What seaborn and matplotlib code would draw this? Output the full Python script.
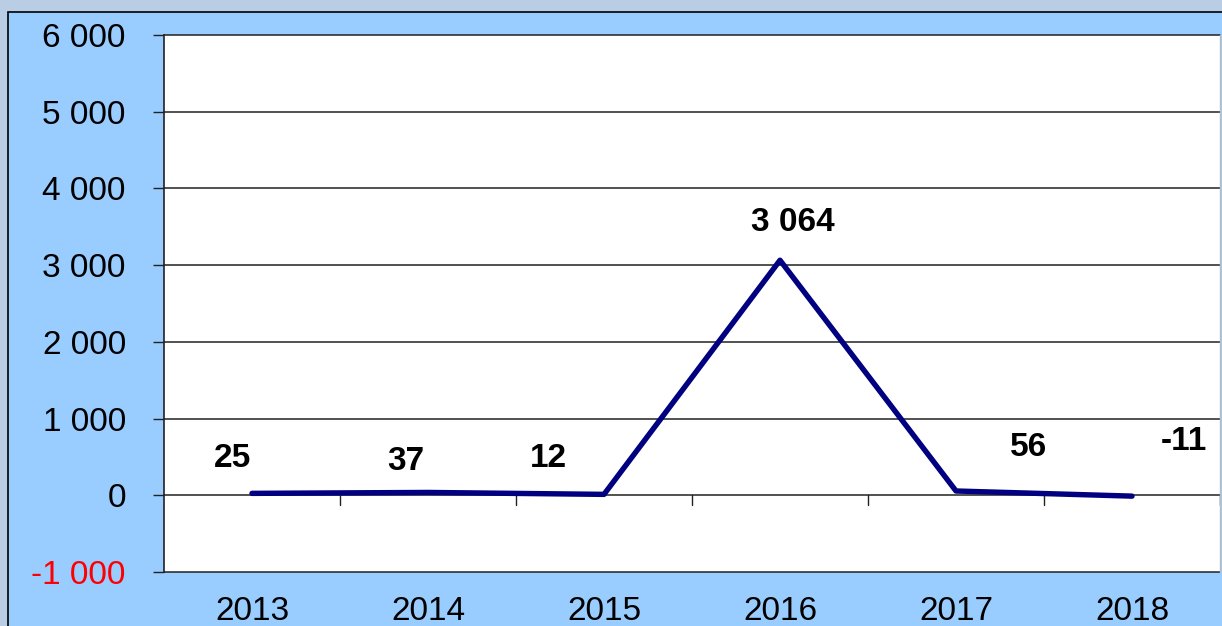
import matplotlib
matplotlib.use("Agg")
import matplotlib.pyplot as plt
from matplotlib.patches import Rectangle
from matplotlib.ticker import FuncFormatter
import pandas as pd
import seaborn as sns

years = ["2013", "2014", "2015", "2016", "2017", "2018"]
values = [25, 37, 12, 3064, 56, -11]
value_labels = ["25", "37", "12", "3 064", "56", "-11"]
y_ticks = [-1000, 0, 1000, 2000, 3000, 4000, 5000, 6000]

# label offsets in points (dx, dy), Excel-style placement
label_offsets = [(-14, 25), (-16, 22), (-40, 26), (9, 27), (52, 31), (37, 39)]

df = pd.DataFrame({"year": years, "value": values})

sns.set_style("white")
plt.rcParams["font.family"] = ["Liberation Sans", "DejaVu Sans"]

fig = plt.figure(figsize=(12.22, 6.26), dpi=100)
fig.patch.set_facecolor("#B9CDE5")
fig.patches.append(Rectangle((8 / 1222, -0.01), 1, 1 - 12 / 626 + 0.01,
                             transform=fig.transFigure, facecolor="#99CCFF",
                             edgecolor="black", linewidth=1.2, zorder=-5))

ax = fig.add_axes([164 / 1222, 1 - 572 / 626, (1220 - 164) / 1222, (572 - 35) / 626])
ax.set_zorder(2)
ax.set_facecolor("white")

sns.lineplot(data=df, x="year", y="value", ax=ax, color="#000080",
             linewidth=3.9, sort=False, zorder=3)

ax.set_xlim(-0.5, len(years) - 0.5)
ax.set_ylim(-1000, 6000)
ax.set_yticks(y_ticks)
ax.yaxis.set_major_formatter(FuncFormatter(lambda v, p: f"{int(v):,}".replace(",", " ")))
for yv in y_ticks:
    ax.axhline(yv, color="#222222", linewidth=1.1, zorder=1, clip_on=False)

# small tick marks on the zero line between categories
for i in range(len(years)):
    ax.plot([i + 0.5, i + 0.5], [0, -130], color="#222222", linewidth=1.0, zorder=2)

ax.set_xlabel("")
ax.set_ylabel("")
ax.tick_params(axis="y", which="both", left=True, length=8, width=1.0,
               color="#222222", pad=19.5, labelsize=24, labelcolor="black")
ax.tick_params(axis="x", length=0, pad=17, labelsize=24, labelcolor="black")
for lab, yv in zip(ax.get_yticklabels(), y_ticks):
    lab.set_color("red" if yv < 0 else "black")

for s in ["top", "bottom"]:
    ax.spines[s].set_visible(False)
ax.spines["left"].set_color("#222222")
ax.spines["left"].set_linewidth(1.2)
ax.spines["right"].set_color("#BBBBBB")
ax.spines["right"].set_linewidth(1.0)

for i, (v, t) in enumerate(zip(values, value_labels)):
    dx, dy = label_offsets[i]
    ax.annotate(t, (i, v), xytext=(dx, dy), textcoords="offset points",
                ha="center", va="center", fontsize=24, fontweight="bold",
                color="black", zorder=4)

fig.savefig("out.png", dpi=100, facecolor=fig.get_facecolor())
